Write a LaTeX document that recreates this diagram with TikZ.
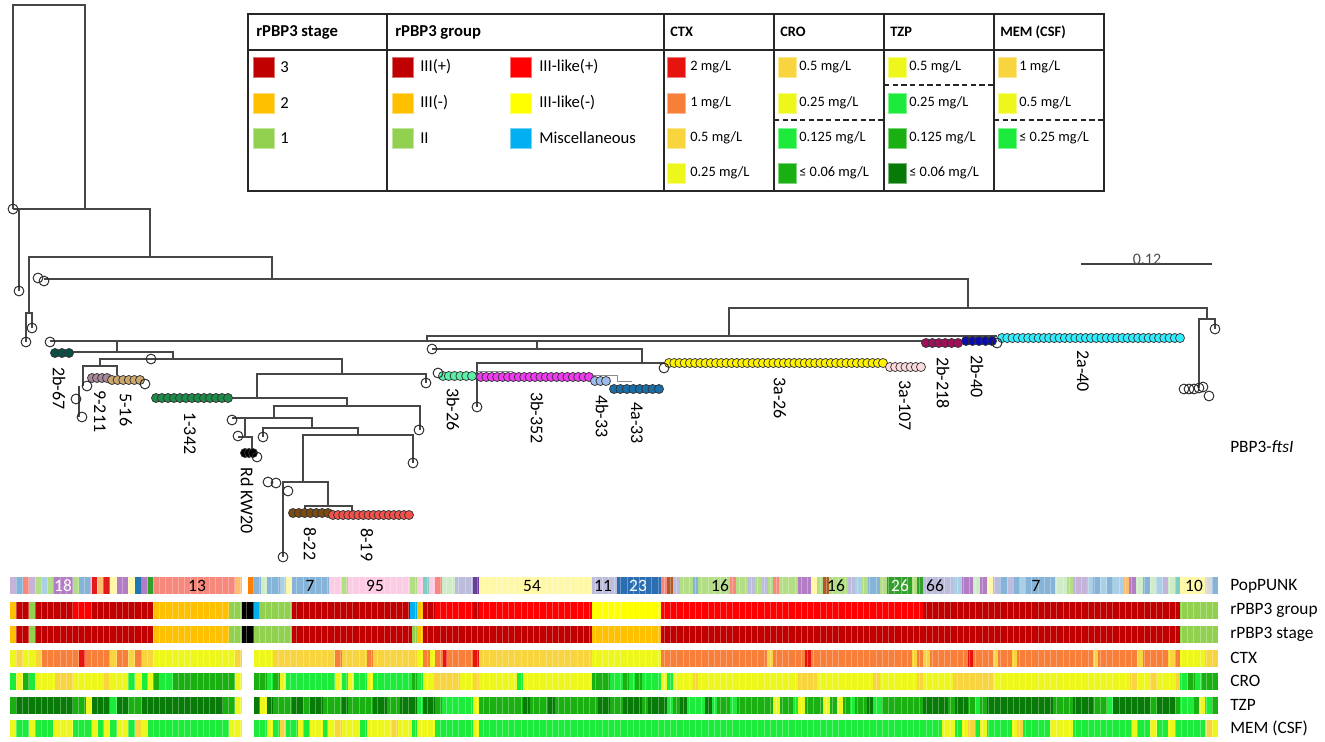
\documentclass[tikz,border=0pt]{standalone}
\usepackage{fontspec}
\setmainfont{Carlito}
% rPBP3 colours
\definecolor{kSthree}{HTML}{C00000}
\definecolor{kStwo}{HTML}{FFC000}
\definecolor{kSone}{HTML}{92D050}
\definecolor{kRd}{HTML}{FF0000}
\definecolor{kYl}{HTML}{FFFF00}
\definecolor{kMi}{HTML}{00B0F0}
\definecolor{kBk}{HTML}{000000}
% MIC colours
\definecolor{mR}{HTML}{E5140E}
\definecolor{mO}{HTML}{F77F3A}
\definecolor{mG}{HTML}{F8D43E}
\definecolor{mY}{HTML}{EEF71C}
\definecolor{mB}{HTML}{1CEB3C}
\definecolor{mM}{HTML}{1AB012}
\definecolor{mD}{HTML}{077A07}
% PopPUNK colours
\definecolor{pLav}{HTML}{C5B3D9}
\definecolor{pBlu}{HTML}{86B3D8}
\definecolor{pLbl}{HTML}{A9D0E6}
\definecolor{pSal}{HTML}{F7887C}
\definecolor{pLgr}{HTML}{B4DE86}
\definecolor{pPur}{HTML}{B37DC6}
\definecolor{pRed}{HTML}{E31A1C}
\definecolor{pLor}{HTML}{FDBF6F}
\definecolor{pLye}{HTML}{FFF8A8}
\definecolor{pDbl}{HTML}{1F78B4}
\definecolor{pDgr}{HTML}{33A02C}
\definecolor{pOra}{HTML}{FF7F00}
\definecolor{pMin}{HTML}{CFEBC8}
\definecolor{pPin}{HTML}{FBCCE3}
\definecolor{pTea}{HTML}{80CDC1}
\definecolor{pDpu}{HTML}{6A3D9A}
\definecolor{pLaa}{HTML}{BCBDDC}
\definecolor{pDbb}{HTML}{2A6DB0}
\definecolor{pBrn}{HTML}{B15928}
\definecolor{pGry}{HTML}{D9D9D9}
% tree cluster colours
\definecolor{tA}{HTML}{0B4F44}
\definecolor{tB}{HTML}{A8899A}
\definecolor{tC}{HTML}{CDA66E}
\definecolor{tD}{HTML}{1E8A4A}
\definecolor{tE}{HTML}{7B4A12}
\definecolor{tF}{HTML}{F2514C}
\definecolor{tG}{HTML}{5CF0AA}
\definecolor{tH}{HTML}{F03CF0}
\definecolor{tI}{HTML}{9DBCEC}
\definecolor{tJ}{HTML}{1A6EA8}
\definecolor{tK}{HTML}{FFF200}
\definecolor{tL}{HTML}{FADADD}
\definecolor{tM}{HTML}{A0105A}
\definecolor{tN}{HTML}{0C0CA8}
\definecolor{tO}{HTML}{33EEFF}
\newcommand\mkclus[5]{\foreach \i in {1,...,#5}{\draw[cl,fill=#1] ({#2+(\i-1)*(#3-#2)/(#5-1)},#4) circle (3.4pt);}}
\newcommand\oc[2]{\draw[oc] (#1,#2) circle (3.7pt);}
\newcommand\hrow[2]{\foreach \a/\b/\c in {#2}{\fill[\c] (\a,#1) rectangle (\b,#1+17);}}
\newcommand\sw[4]{\fill[#1,draw=#1!55!white,line width=0.5pt] (#2,#3-10) rectangle (#2+#4,#3+10);}
\begin{document}
\begin{tikzpicture}[x=0.75pt,y=-0.75pt,
  tl/.style={draw=black!72,line width=1pt},
  oc/.style={draw=black!85,line width=0.7pt},
  cl/.style={draw=black!80,line width=0.55pt},
  lab/.style={font=\fontsize{13.5}{15}\selectfont,rotate=-90,anchor=west,inner sep=0pt},
  hdr/.style={font=\bfseries\fontsize{12.5}{15}\selectfont,anchor=west,inner sep=0pt},
  hdrs/.style={font=\bfseries\fontsize{10.8}{13}\selectfont,anchor=west,inner sep=0pt},
  lt/.style={font=\fontsize{12.5}{15}\selectfont,anchor=west,inner sep=0pt},
  lts/.style={font=\fontsize{10.8}{13}\selectfont,anchor=west,inner sep=0pt},
  rl/.style={font=\fontsize{13}{15}\selectfont,anchor=west,inner sep=0pt},
  pn/.style={font=\fontsize{13}{15}\selectfont,inner sep=0pt},
  tab/.style={draw=black!85,line width=0.9pt},
  tdash/.style={draw=black!85,line width=0.9pt,dash pattern=on 4pt off 2.5pt}]
\useasboundingbox (0,0) rectangle (1325,742);

% ---------------- legend table ----------------
\draw[tab] (248,14) rectangle (1104,191);
\draw[tab] (248,50)--(1104,50);
\foreach \x in {387,664,774,884,994} \draw[tab] (\x,14)--(\x,191);
\draw[tdash] (774,120)--(884,120);
\draw[tdash] (884,85)--(994,85);
\draw[tdash] (994,120)--(1104,120);
\node[hdr] (hS) at (256,32) {rPBP3 stage};
\node[hdr] (hG) at (395,32) {rPBP3 group};
\node[hdrs] (hC) at (670,32) {CTX};
\node[hdrs] (hR) at (780,32) {CRO};
\node[hdrs] (hT) at (890,32) {TZP};
\node[hdrs] (hM) at (1000,32) {MEM (CSF)};
% stage
\sw{kSthree}{253}{67}{21}\node[lt] (s3) at (280,67) {3};
\sw{kStwo}{253}{103}{21}\node[lt] (s2) at (280,103) {2};
\sw{kSone}{253}{138}{21}\node[lt] (s1) at (280,138) {1};
% group
\sw{kSthree}{392}{67}{21}\node[lt] (g1) at (420,67) {III(+)};
\sw{kStwo}{392}{103}{21}\node[lt] (g2) at (420,103) {III(-)};
\sw{kSone}{392}{138}{21}\node[lt] (g3) at (420,138) {II};
\sw{kRd}{510}{67}{21}\node[lt] (g4) at (539,67) {III-like(+)};
\sw{kYl}{510}{103}{21}\node[lt] (g5) at (539,103) {III-like(-)};
\sw{kMi}{510}{138}{21}\node[lt] (g6) at (539,138) {Miscellaneous};
% CTX
\sw{mR}{667}{67}{18}\node[lts] (c1) at (690,67) {2 mg/L};
\sw{mO}{667}{103}{18}\node[lts] (c2) at (690,103) {1 mg/L};
\sw{mG}{667}{138}{18}\node[lts] (c3) at (690,138) {0.5 mg/L};
\sw{mY}{667}{173}{18}\node[lts] (c4) at (690,173) {0.25 mg/L};
% CRO
\sw{mG}{778}{67}{18}\node[lts] (r1) at (799,67) {0.5 mg/L};
\sw{mY}{778}{103}{18}\node[lts] (r2) at (799,103) {0.25 mg/L};
\sw{mB}{778}{138}{18}\node[lts] (r3) at (799,138) {0.125 mg/L};
\sw{mM}{778}{173}{18}\node[lts] (r4) at (799,173) {≤ 0.06 mg/L};
% TZP
\sw{mY}{888}{67}{18}\node[lts] (t1) at (909,67) {0.5 mg/L};
\sw{mB}{888}{103}{18}\node[lts] (t2) at (909,103) {0.25 mg/L};
\sw{mM}{888}{138}{18}\node[lts] (t3) at (909,138) {0.125 mg/L};
\sw{mD}{888}{173}{18}\node[lts] (t4) at (909,173) {≤ 0.06 mg/L};
% MEM
\sw{mG}{998}{67}{18}\node[lts] (e1) at (1019,67) {1 mg/L};
\sw{mY}{998}{103}{18}\node[lts] (e2) at (1019,103) {0.5 mg/L};
\sw{mB}{998}{138}{18}\node[lts] (e3) at (1019,138) {≤ 0.25 mg/L};

% ---------------- tree ----------------
\draw[tl] (13,209)--(13,5)--(85,5)--(85,209);
\draw[tl] (13,209)--(150,209)--(150,257);
\draw[tl] (19,209)--(19,291);
\draw[tl] (29,313)--(29,257)--(272,257)--(272,279);
\draw[tl] (26,342)--(26,313)--(32,313)--(32,328);
\draw[tl] (44,279)--(968,279)--(968,308);
\draw[tl] (729,336)--(729,308)--(1207,308)--(1207,319);
\draw[tl] (1199,388)--(1199,319)--(1215,319)--(1215,329);
\draw[tl] (427,341)--(427,336)--(997,336);
\draw[tl,line width=1.5pt] (50,341)--(922,341);
\draw[tl] (117,341)--(117,352);
\draw[tl] (72,352)--(173,352)--(173,359);
\draw[tl] (100,366)--(100,359)--(342,359)--(342,374);
\draw[tl] (83,386)--(83,366)--(117,366)--(117,375);
\draw[tl] (79,386)--(79,417);
\draw[tl] (257,398)--(257,374)--(426,374)--(426,383);
\draw[tl] (153,398)--(347,398)--(347,406);
\draw[tl] (274,418)--(274,406)--(420,406)--(420,430);
\draw[tl] (232,418)--(312,418)--(312,428);
\draw[tl] (263,437)--(263,428)--(358,428)--(358,435);
\draw[tl] (303,482)--(303,435)--(413,435)--(413,463);
\draw[tl] (245,418)--(245,437);
\draw[tl] (238,437)--(252,437)--(252,453);
\draw[tl] (282,482)--(328,482)--(328,506);
\draw[tl] (283,482)--(283,557);
\draw[tl] (305,513)--(305,506)--(352,506)--(352,513);
\draw[tl] (537,341)--(537,349);
\draw[tl] (432,349)--(642,349)--(642,363);
\draw[tl] (477,407)--(477,363)--(664,363);
\draw[black!45,line width=0.6pt] (477,371)--(513,371);
\draw[black!45,line width=0.6pt] (590,375)--(617,375)--(617,381)--(632,381);

\mkclus{tA}{55}{69}{353}{3}
\mkclus{tB}{92}{107}{378}{4}
\mkclus{tC}{112}{140}{380}{6}
\mkclus{tD}{156}{228}{398}{13}
\mkclus{kBk}{245}{253}{453}{3}
\mkclus{tE}{293}{328}{513}{7}
\mkclus{tF}{333}{409}{515}{16}
\mkclus{tG}{443}{472}{376}{6}
\mkclus{tH}{481}{589}{377}{21}
\mkclus{tI}{595}{606}{381}{3}
\mkclus{tJ}{614}{659}{389}{8}
\mkclus{tK}{669}{883}{363}{42}
\mkclus{tL}{890}{921}{367}{7}
\mkclus{tM}{926}{958}{343}{6}
\mkclus{tN}{966}{992}{341}{5}
\mkclus{tO}{1002}{1180}{338}{35}

\oc{13}{209}\oc{19}{291}\oc{32}{328}\oc{26}{342}\oc{38}{278}\oc{44}{281}
\oc{50}{342}\oc{87}{386}\oc{76}{399}\oc{82}{417}\oc{145}{384}\oc{151}{359}
\oc{426}{383}\oc{232}{420}\oc{238}{436}\oc{263}{437}\oc{257}{457}\oc{419}{430}
\oc{413}{463}\oc{268}{482}\oc{276}{483}\oc{288}{491}\oc{283}{557}\oc{432}{349}
\oc{438}{373}\oc{477}{407}\oc{664}{368}\oc{997}{343}\oc{1215}{329}
\oc{1184}{389}\oc{1189}{389}\oc{1194}{389}\oc{1199}{388}\oc{1203}{387}\oc{1209}{396}

\node[lab] (L1) at (59,367) {2b-67};
\node[lab] (L2) at (100,390) {9-211};
\node[lab] (L3) at (126,393) {5-16};
\node[lab] (L4) at (190,412) {1-342};
\node[lab] (L5) at (247,467) {Rd KW20};
\node[lab] (L6) at (310,527) {8-22};
\node[lab] (L7) at (367,528) {8-19};
\node[lab] (L8) at (453,388) {3b-26};
\node[lab] (L9) at (537,392) {3b-352};
\node[lab] (L10) at (602,395) {4b-33};
\node[lab] (L11) at (637,402) {4a-33};
\node[lab] (L12) at (780,377) {3a-26};
\node[lab] (L13) at (905,380) {3a-107};
\node[lab] (L14) at (943,357) {2b-218};
\node[lab] (L15) at (977,355) {2b-40};
\node[lab] (L16) at (1083,350) {2a-40};

\draw[black!75,line width=0.9pt] (1081,264)--(1212,264);
\node[font=\fontsize{12}{14}\selectfont,text=black!70,inner sep=0pt] (sb) at (1147,259) {0.12};
\node[rl] (pbp) at (1230,447) {PBP3-\textit{ftsI}};

% ---------------- heat map ----------------
\hrow{577}{10/16/pLav,16/23/pBlu,23/29/pSal,29/35/pLav,35/42/pLgr,42/48/pLbl,48/53/pLgr,53/73/pPur,73/79/pLgr,79/90/pBlu,90/92/pLav,92/97/pRed,97/103/pLor,103/110/pRed,110/117/pLye,117/128/pPur,128/135/pLye,135/142/pDbl,142/148/pPur,148/153/pDgr,153/235/pSal,235/242/pLor,248/254/pOra,254/261/pBlu,261/267/pMin,267/280/pBlu,280/286/pLbl,286/292/pLye,292/329/pBlu,329/342/pPin,342/348/pLgr,348/410/pPin,410/417/pLgr,417/423/pPin,423/429/pTea,429/435/pPin,435/442/pSal,442/455/pMin,455/473/pLaa,473/479/pDpu,479/592/pLye,592/617/pLaa,617/661/pDbb,661/667/pSal,667/673/pBrn,673/680/pLaa,680/693/pLgr,693/698/pBlu,698/730/pLgr,730/736/pSal,736/748/pLgr,748/755/pLaa,755/762/pLgr,762/768/pLaa,768/773/pLgr,773/779/pSal,779/798/pLgr,798/811/pPur,811/817/pLye,817/823/pLgr,823/829/pBrn,829/848/pLgr,848/855/pLaa,855/862/pLbl,862/868/pLgr,868/880/pBlu,880/887/pLgr,887/912/pDgr,912/917/pLgr,917/923/pDgr,923/953/pLaa,953/962/pLbl,962/973/pPur,973/980/pMin,980/987/pPur,987/993/pLye,993/1000/pLaa,1000/1007/pBlu,1007/1013/pLaa,1013/1020/pBlu,1020/1025/pLbl,1025/1055/pBlu,1055/1067/pMin,1067/1073/pLgr,1073/1087/pLav,1087/1093/pLbl,1093/1100/pBlu,1100/1107/pLbl,1107/1113/pBlu,1113/1123/pLbl,1123/1129/pLor,1129/1136/pPur,1136/1143/pMin,1143/1150/pBlu,1150/1156/pMin,1156/1163/pLbl,1163/1168/pLav,1168/1175/pMin,1175/1180/pTea,1180/1205/pLye,1205/1212/pGry,1212/1218/pBlu}
\hrow{602}{10/16/kStwo,16/29/kSthree,29/35/kSone,35/73/kSthree,73/92/kRd,92/153/kSthree,153/229/kStwo,229/242/kSone,242/254/kBk,254/260/kMi,260/292/kSone,292/410/kSthree,410/417/kMi,417/423/kStwo,423/435/kSthree,435/473/kRd,473/479/kSthree,479/592/kRd,592/661/kYl,661/923/kRd,923/1180/kSthree,1180/1218/kSone}
\hrow{626}{10/16/kStwo,16/29/kSthree,29/35/kSone,35/153/kSthree,153/229/kStwo,229/242/kSone,242/254/kBk,254/292/kSone,292/412/kSthree,412/417/kSone,417/423/kStwo,423/592/kSthree,592/661/kStwo,661/1180/kSthree,1180/1218/kSone}
\hrow{650}{10/16/mY,16/23/mG,23/35/mY,35/42/mG,42/79/mO,79/85/mR,85/110/mO,110/117/mG,117/128/mO,128/135/mG,135/142/mO,142/153/mG,153/235/mY,235/242/mG,254/273/mY,273/335/mG,335/342/mO,342/367/mG,367/373/mO,373/417/mG,417/423/mY,423/430/mO,430/435/mY,435/443/mO,443/447/mR,447/473/mO,473/479/mR,479/592/mG,592/661/mY,661/767/mO,767/773/mG,773/805/mO,805/811/mR,811/912/mO,912/917/mG,917/923/mO,923/930/mG,930/968/mO,968/973/mR,973/993/mO,993/998/mG,998/1012/mO,1012/1017/mG,1017/1093/mO,1093/1098/mG,1098/1137/mO,1137/1143/mG,1143/1168/mO,1168/1175/mG,1175/1180/mO,1180/1205/mY,1205/1218/mG}
\hrow{673}{10/16/mB,16/23/mY,23/29/mM,29/35/mB,35/55/mY,55/73/mG,73/103/mY,103/110/mG,110/128/mY,128/135/mB,135/142/mY,142/148/mB,148/153/mY,153/160/mM,160/173/mB,173/235/mM,235/242/mY,254/267/mM,267/273/mB,273/280/mM,280/286/mY,286/335/mB,335/342/mY,342/348/mB,348/354/mY,354/367/mB,367/373/mY,373/412/mB,412/417/mM,417/423/mB,423/433/mY,433/460/mG,460/473/mY,473/479/mG,479/517/mY,517/523/mB,523/592/mY,592/610/mM,610/623/mB,623/629/mM,629/635/mB,635/642/mM,642/661/mB,661/667/mY,667/673/mB,673/693/mY,693/698/mG,698/798/mY,798/817/mG,817/873/mY,873/880/mG,880/917/mY,917/923/mG,923/953/mY,953/993/mG,993/1130/mY,1130/1137/mG,1137/1150/mY,1150/1157/mG,1157/1175/mY,1175/1180/mG,1180/1188/mB,1188/1195/mM,1195/1202/mB,1202/1218/mM}
\hrow{697}{10/16/mM,16/73/mD,73/86/mM,86/92/mY,92/110/mD,110/117/mB,117/128/mD,128/142/mM,142/223/mD,223/235/mM,235/242/mY,254/260/mD,260/267/mY,267/273/mD,273/292/mM,292/303/mD,303/310/mM,310/323/mD,323/342/mM,342/348/mD,348/373/mM,373/387/mD,387/400/mM,400/417/mD,417/423/mB,423/435/mD,435/442/mM,442/473/mB,473/479/mY,479/523/mM,523/530/mD,530/548/mM,548/555/mD,555/598/mM,598/610/mD,610/623/mM,623/642/mD,642/648/mM,648/667/mD,667/673/mB,673/680/mM,680/687/mD,687/705/mB,705/712/mD,712/717/mB,717/730/mM,730/737/mB,737/773/mM,773/780/mY,780/793/mM,793/798/mB,798/805/mY,805/823/mM,823/830/mY,830/837/mM,837/843/mY,843/850/mM,850/855/mB,855/867/mM,867/873/mD,873/882/mB,882/923/mM,923/948/mD,948/955/mM,955/968/mD,968/975/mM,975/980/mB,980/987/mM,987/1053/mD,1053/1073/mM,1073/1093/mD,1093/1107/mM,1107/1113/mB,1113/1150/mD,1150/1157/mM,1157/1175/mD,1175/1180/mM,1180/1193/mB,1193/1199/mM,1199/1205/mY,1205/1212/mB,1212/1218/mM}
\hrow{720}{10/16/mY,16/29/mB,29/35/mY,35/53/mB,53/73/mY,73/92/mB,92/98/mY,98/104/mB,104/110/mY,110/117/mB,117/128/mY,128/135/mB,135/142/mG,142/148/mY,148/229/mB,229/242/mY,254/267/mB,267/273/mY,273/280/mB,280/286/mG,286/298/mB,298/303/mY,303/310/mB,310/323/mY,323/328/mB,328/335/mY,335/342/mG,342/360/mY,360/367/mB,367/392/mY,392/398/mG,398/412/mY,412/417/mB,417/435/mY,435/473/mB,473/479/mY,479/942/mB,942/955/mY,955/962/mB,962/968/mY,968/975/mG,975/980/mB,980/987/mY,987/1012/mB,1012/1017/mY,1017/1023/mG,1023/1050/mB,1050/1073/mY,1073/1132/mB,1132/1137/mY,1137/1150/mB,1150/1157/mY,1157/1168/mB,1168/1175/mY,1175/1205/mB,1205/1212/mG,1212/1218/mY}
% faint cell separators
\foreach \r in {577,602,626,650,673,697,720}{
  \foreach \k in {1,...,194}{\draw[white,opacity=0.3,line width=0.4pt] ({10+\k*6.23},\r)--({10+\k*6.23},\r+17);}}
% PopPUNK cluster numbers
\node[pn,text=white] (n18) at (63,586) {18};
\node[pn] (n13) at (197,586) {13};
\node[pn] (n7a) at (310,586) {7};
\node[pn] (n95) at (375,586) {95};
\node[pn] (n54) at (532,586) {54};
\node[pn] (n11) at (603,586) {11};
\node[pn,text=white] (n23) at (638,586) {23};
\node[pn] (n16a) at (720,586) {16};
\node[pn] (n16b) at (836,586) {16};
\node[pn,text=white] (n26) at (900,586) {26};
\node[pn] (n66) at (935,586) {66};
\node[pn] (n7b) at (1036,586) {7};
\node[pn] (n10) at (1194,586) {10};
% row labels
\node[rl] (rPop) at (1230,586) {PopPUNK};
\node[rl] (rGrp) at (1230,610) {rPBP3 group};
\node[rl] (rStg) at (1230,634) {rPBP3 stage};
\node[rl] (rCTX) at (1230,658) {CTX};
\node[rl] (rCRO) at (1230,681) {CRO};
\node[rl] (rTZP) at (1230,705) {TZP};
\node[rl] (rMEM) at (1230,728) {MEM (CSF)};
\end{tikzpicture}
\end{document}
